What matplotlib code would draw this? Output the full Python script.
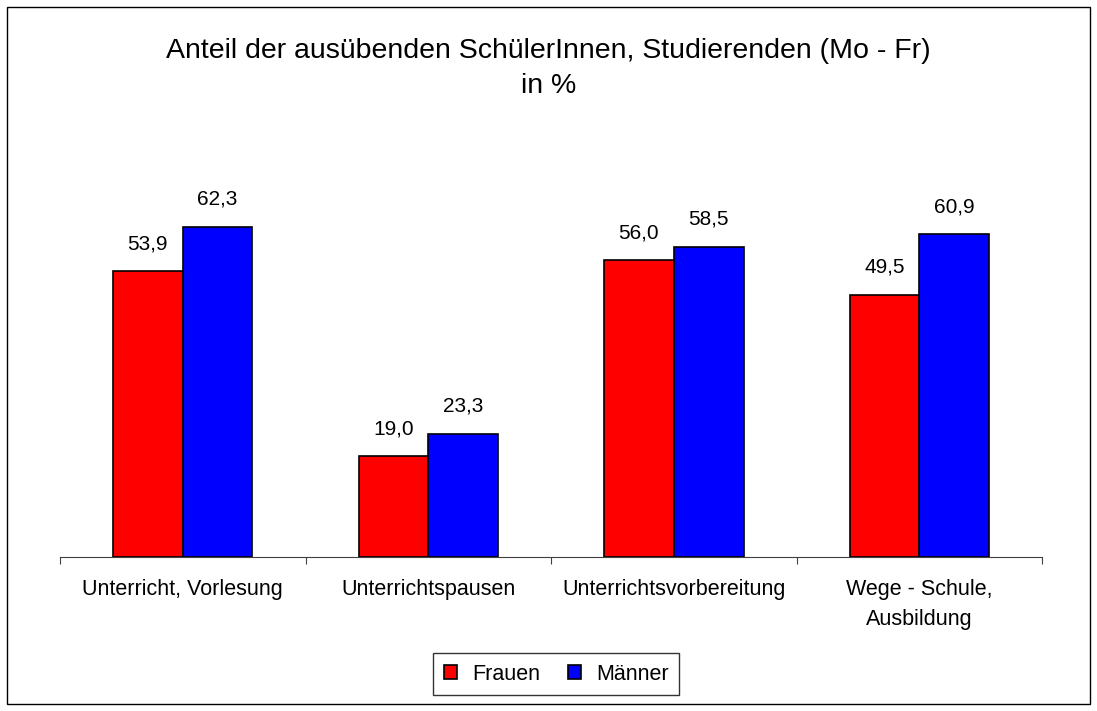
import matplotlib.pyplot as plt
import numpy as np
from matplotlib.patches import Rectangle

plt.rcParams['font.family'] = ['Liberation Sans', 'DejaVu Sans']

# Daten
kategorien = ['Unterricht, Vorlesung', 'Unterrichtspausen', 'Unterrichtsvorbereitung',
              'Wege - Schule,\nAusbildung']
frauen = [53.9, 19.0, 56.0, 49.5]
maenner = [62.3, 23.3, 58.5, 60.9]

fig = plt.figure(figsize=(10.97, 7.11), dpi=100)
ax = fig.add_axes([0.0547, 0.2166, 0.8952, 0.5218])

x = np.arange(len(kategorien))
w = 0.284
b1 = ax.bar(x - w / 2, frauen, w, color='#ff0000', edgecolor='black', linewidth=1.2, label='Frauen')
b2 = ax.bar(x + w / 2, maenner, w, color='#0000ff', edgecolor='black', linewidth=1.2, label='Männer')

# Werte über den Balken
for bars, vals in [(b1, frauen), (b2, maenner)]:
    for r, v in zip(bars, vals):
        ax.annotate(f'{v:.1f}'.replace('.', ','), (r.get_x() + r.get_width() / 2, v),
                    xytext=(0, 13), textcoords='offset points', ha='center', va='bottom', fontsize=15)

ax.set_xlim(-0.5, len(kategorien) - 0.5)
ax.set_ylim(0, 70)
ax.set_xticks(np.arange(len(kategorien) + 1) - 0.5)
ax.set_xticklabels([])
ax.set_xticks(x, minor=True)
ax.set_xticklabels(kategorien, minor=True, fontsize=15.5, linespacing=1.55)
ax.tick_params(axis='x', which='major', length=5, direction='out', color='#404040')
ax.tick_params(axis='x', which='minor', length=0, pad=16)
ax.set_yticks([])
for s in ['left', 'right', 'top']:
    ax.spines[s].set_visible(False)
ax.spines['bottom'].set_color('#404040')

# Titel
fig.text(0.5, 0.9184, 'Anteil der ausübenden SchülerInnen, Studierenden (Mo - Fr)',
         ha='center', va='baseline', fontsize=20.5)
fig.text(0.5, 0.8692, 'in %', ha='center', va='baseline', fontsize=20.5)

fig.legend(loc='center', bbox_to_anchor=(0.507, 0.052), ncol=2, fontsize=15.5,
           frameon=True, fancybox=False, edgecolor='black', handlelength=0.6, handleheight=0.6,
           handletextpad=0.7, columnspacing=1.3, borderpad=0.5, borderaxespad=0)

fig.patches.append(Rectangle((0.006, 0.01), 0.988, 0.98, transform=fig.transFigure,
                             fill=False, edgecolor='black', linewidth=1))

plt.savefig('out.png', dpi=100)
